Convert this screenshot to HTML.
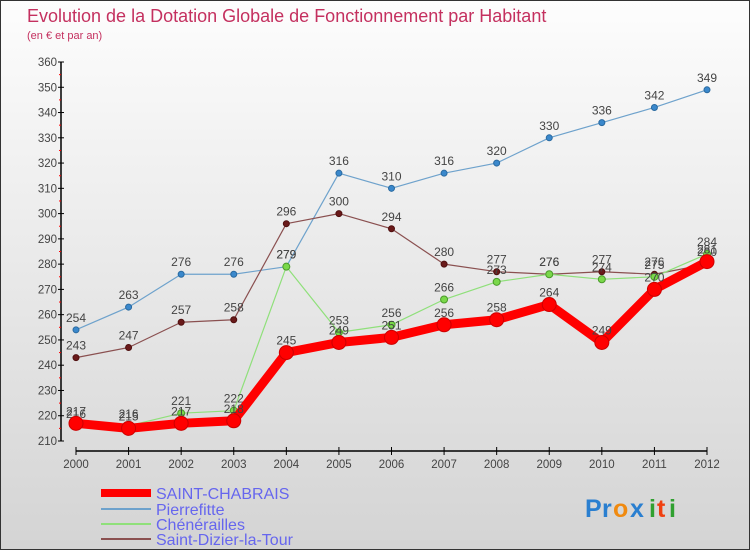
<!DOCTYPE html>
<html><head><meta charset="utf-8"><style>
body{margin:0;}
#wrap{position:relative;width:748px;height:548px;border:1px solid #333;background:linear-gradient(#fdfdfd,#d4d4d4);overflow:hidden;font-family:"Liberation Sans",sans-serif;}
svg text{font-family:"Liberation Sans",sans-serif;}
</style></head><body>
<div id="wrap">
<svg id="chart" width="748" height="548">
<text x="26" y="21" font-size="18" fill="#c4305f">Evolution de la Dotation Globale de Fonctionnement par Habitant</text>
<text x="26" y="38" font-size="11" fill="#c4305f">(en € et par an)</text>
<g id="axes"></g><g id="series"></g>
<g>
<rect x="100" y="488" width="50" height="8" fill="#f00"/>
<text x="155" y="498" font-size="16" fill="#6666ee">SAINT-CHABRAIS</text>
<rect x="100" y="507" width="50" height="2" fill="#6ea2cc"/>
<text x="155" y="514" font-size="16" fill="#6666ee">Pierrefitte</text>
<rect x="100" y="522" width="50" height="2" fill="#8fe07a"/>
<text x="155" y="529" font-size="16" fill="#6666ee">Chénérailles</text>
<rect x="100" y="537" width="50" height="2" fill="#8a5050"/>
<text x="155" y="544" font-size="16" fill="#6666ee">Saint-Dizier-la-Tour</text>
</g>
<g font-size="25" font-weight="bold">
<text x="584" y="516" fill="#2a7fd0">P</text><text x="601" y="516" fill="#2a7fd0">r</text><text x="612" y="516" fill="#f08a10">o</text><text x="629" y="516" fill="#2a7fd0">x</text><text x="648" y="516" fill="#30a030">i</text><text x="656" y="516" fill="#f04010">t</text><text x="668" y="516" fill="#30a030">i</text>
</g>
</svg></div>
<script>
const years=[2000,2001,2002,2003,2004,2005,2006,2007,2008,2009,2010,2011,2012];
const yTicks=[210,220,230,240,250,260,270,280,290,300,310,320,330,340,350,360];
const saintChabrais=[217,215,217,218,245,249,251,256,258,264,249,270,281];
const pierrefitte=[254,263,276,276,279,316,310,316,320,330,336,342,349];
const chenerailles=[216,216,221,222,279,253,256,266,273,276,274,275,284];
const saintDizier=[243,247,257,258,296,300,294,280,277,276,277,276,280];
const NS='http://www.w3.org/2000/svg';
function X(i){return 75+i*(706-75)/(years.length-1);}
function Y(v){return 440-(v-210)*(440-61)/150;}
function mk(tag,attrs,parent){const e=document.createElementNS(NS,tag);for(const k in attrs)e.setAttribute(k,attrs[k]);parent.appendChild(e);return e;}
const ax=document.getElementById('axes');
const yl=mk('line',{x1:60,y1:Y(360),x2:60,y2:Y(210),stroke:'#000','stroke-width':1.5},ax);


const xl=mk('line',{x1:X(0),y1:450,x2:X(12),y2:450,stroke:'#000','stroke-width':1.5},ax);


yTicks.forEach(t=>{
  mk('line',{x1:57,y1:Y(t),x2:63,y2:Y(t),stroke:'#000'},ax);
  if(t<360){mk('line',{x1:58,y1:Y(t+5),x2:60,y2:Y(t+5),stroke:'#f00'},ax);}
  const tx=mk('text',{x:56,y:Y(t)+4,'font-size':11.5,fill:'#444','text-anchor':'end'},ax);
  tx.textContent=t;
  
  
});
years.forEach((y,i)=>{
  mk('line',{x1:X(i),y1:446,x2:X(i),y2:454,stroke:'#000'},ax);
  const tx=mk('text',{x:X(i),y:467,'font-size':11.5,fill:'#444','text-anchor':'middle'},ax);
  tx.textContent=y;
  
  
});
const sg=document.getElementById('series');
function drawSeries(vals,name,color,width,r,fill,stroke){
  const g=mk('g',{},sg);
  
  
  const pts=vals.map((v,i)=>X(i)+','+Y(v)).join(' ');
  const pl=mk('polyline',{points:pts,fill:'none',stroke:color,'stroke-width':width,'stroke-linejoin':'round'},g);
  
  
  vals.forEach((v,i)=>{
    const c=mk('circle',{cx:X(i),cy:Y(v),r:r,fill:fill,stroke:stroke,'stroke-width':1},g);
    
    
    const t=mk('text',{x:X(i),y:Y(v)-8,'font-size':12,fill:'#444','text-anchor':'middle'},g);
    t.textContent=v;
    
    
  });
}
drawSeries(pierrefitte,'pierrefitte','#6ea2cc',1.2,3,'#3a88cc','#2a6aa0');
drawSeries(saintDizier,'saint-dizier','#8a5050',1.2,3,'#6a1a1a','#501010');
drawSeries(chenerailles,'chenerailles','#8fe07a',1.2,3.5,'#7ad84a','#4a9a2a');
drawSeries(saintChabrais,'saint-chabrais','#f00',9,7,'#f00','#c00');
</script>
</body></html>
